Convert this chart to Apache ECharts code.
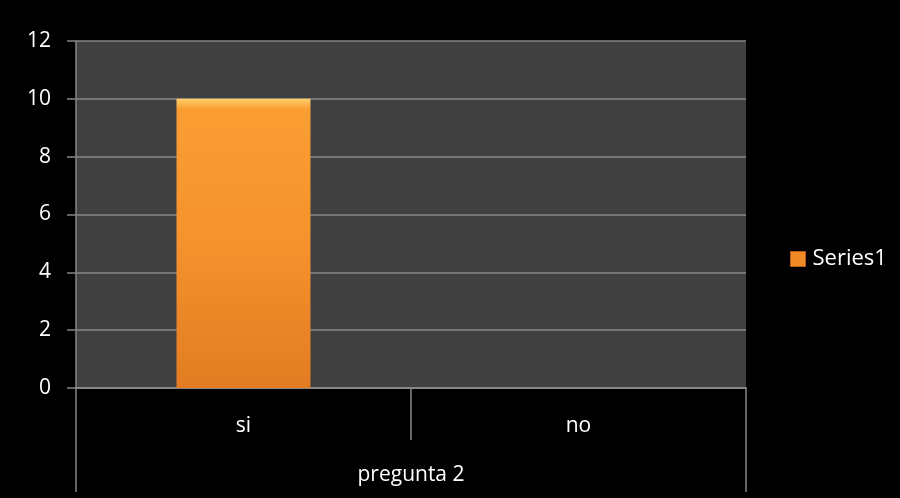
<!DOCTYPE html>
<html>
<head>
<meta charset="utf-8">
<script src="https://cdn.jsdelivr.net/npm/echarts@6/dist/echarts.min.js"></script>
<style>
  html, body { margin: 0; padding: 0; background: #000; }
  #chart { width: 900px; height: 498px; }
</style>
</head>
<body>
<div id="chart"></div>
<script>
// Answers to question 2
const categories = ['si', 'no'];
const groupLabels = ['pregunta 2'];
const seriesName = 'Series1';
const values = [10, 0];
const yMin = 0, yMax = 12, yStep = 2;

const FONT = '"Open Sans", "Liberation Sans", sans-serif';
const FONT_SIZE = 21;
const GRID_GRAY = '#878787';

// glossy orange fill: bright rim on top, darker toward the base
const barFill = new echarts.graphic.LinearGradient(0, 0, 0, 1, [
  { offset: 0, color: '#FFCF6A' },
  { offset: 0.035, color: '#FA9E33' },
  { offset: 0.5, color: '#F5922D' },
  { offset: 1, color: '#E37C22' }
]);

const chart = echarts.init(document.getElementById('chart'));
chart.setOption({
  backgroundColor: '#000000',
  animation: false,
  textStyle: { fontFamily: FONT },
  legend: {
    orient: 'vertical',
    left: 790,
    top: 248,
    padding: 0,
    itemWidth: 15,
    itemHeight: 15,
    itemGap: 6,
    icon: 'rect',
    textStyle: { color: '#ffffff', fontSize: 22, lineHeight: 22, fontFamily: FONT, padding: [0, 0, 0, 2] },
    data: [{ name: seriesName, itemStyle: { color: '#EF8A24', borderColor: '#B5601A', borderWidth: 1 } }]
  },
  grid: {
    left: 76, right: 154, top: 41, bottom: 110,
    show: true, backgroundColor: '#404040', borderWidth: 0
  },
  xAxis: [
    {
      type: 'category',
      data: categories,
      position: 'bottom',
      axisLine: { show: true, onZero: false, lineStyle: { color: GRID_GRAY, width: 2 } },
      axisTick: { show: true, interval: 0, length: 52, lineStyle: { color: GRID_GRAY, width: 1.5 } },
      axisLabel: { color: '#ffffff', fontSize: FONT_SIZE, lineHeight: 22, margin: 27, fontFamily: FONT },
      splitLine: { show: false }
    },
    {
      type: 'category',
      data: groupLabels,
      position: 'bottom',
      axisLine: { show: false, onZero: false },
      axisTick: { show: true, interval: 0, length: 104, lineStyle: { color: GRID_GRAY, width: 1.5 } },
      axisLabel: { color: '#ffffff', fontSize: FONT_SIZE, lineHeight: 22, margin: 76, fontFamily: FONT },
      splitLine: { show: false }
    }
  ],
  yAxis: {
    type: 'value',
    min: yMin, max: yMax, interval: yStep,
    axisLine: { show: true, lineStyle: { color: GRID_GRAY, width: 1.5 } },
    axisTick: { show: true, length: 9, lineStyle: { color: GRID_GRAY, width: 1.5 } },
    axisLabel: { color: '#ffffff', fontSize: FONT_SIZE, margin: 25, fontFamily: FONT },
    splitLine: { show: true, lineStyle: { color: GRID_GRAY, width: 1.5 } }
  },
  series: [{
    name: seriesName,
    type: 'bar',
    xAxisIndex: 0,
    data: values,
    barWidth: '40%',
    itemStyle: { color: barFill, borderColor: '#D9761F', borderWidth: 0 },
    emphasis: { disabled: true }
  }]
});
</script>
</body>
</html>
